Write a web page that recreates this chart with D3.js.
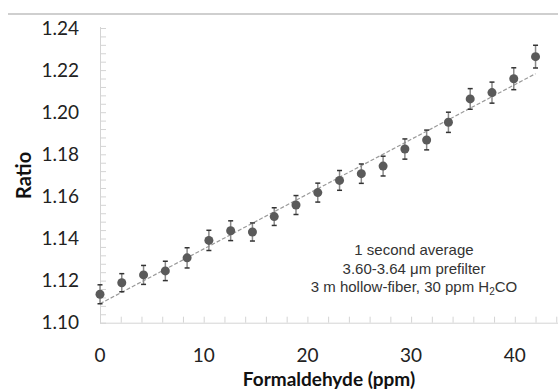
<!DOCTYPE html>
<html>
<head>
<meta charset="UTF-8">
<script src="https://d3js.org/d3.v7.min.js"></script>
<style>
  body { margin: 0; background: #fff; }
  svg { display: block; }
</style>
</head>
<body>
<svg id="canvas"></svg>
<script>
  // data
  concentration = [0, 2.1, 4.2, 6.3, 8.4, 10.5, 12.6, 14.7, 16.8, 18.9, 21.0,
                   23.1, 25.2, 27.3, 29.4, 31.5, 33.6, 35.7, 37.8, 39.9, 42.0];
  ratio = [1.1135, 1.1190, 1.1227, 1.1246, 1.1308, 1.1391, 1.1437, 1.1431, 1.1504, 1.1559, 1.1618,
           1.1676, 1.1708, 1.1744, 1.1825, 1.1868, 1.1952, 1.2063, 1.2093, 1.2159, 1.2264];
  errors = [0.0045, 0.0043, 0.0045, 0.0046, 0.0048, 0.0048, 0.0047, 0.0043, 0.0042, 0.0045, 0.0045,
            0.0047, 0.0046, 0.0047, 0.0048, 0.0047, 0.0048, 0.0049, 0.0050, 0.0052, 0.0054];
  trendX = [0, 42];
  trendY = [1.109, 1.2183];
  yTicks = [1.10, 1.12, 1.14, 1.16, 1.18, 1.20, 1.22, 1.24];
  xTicks = [0, 10, 20, 30, 40];
  notes = ["1 second average", "3.60-3.64 \u03bcm prefilter", "3 m hollow-fiber, 30 ppm H"];

  width = 558;
  height = 389;

  svg = d3.select("#canvas")
      .attr("width", width)
      .attr("height", height);

  x = d3.scaleLinear().domain([0, 45]).range([100, 100 + 45 * 10.37]);
  y = d3.scaleLinear().domain([1.10, 1.24]).range([322.7, 28]);

  // thin rule at the top of the page
  svg.append("line")
      .attr("x1", 8).attr("x2", width)
      .attr("y1", 14).attr("y2", 14)
      .attr("stroke", "#cfcfcf").attr("stroke-width", 2);

  axisColor = "#d4d4d4";

  // y axis with minor ticks
  yAxis = svg.append("g")
      .attr("transform", "translate(" + x(0) + ",0)")
      .call(d3.axisRight(y)
          .tickValues(d3.range(0, 36).map(i => 1.10 + i * 0.004))
          .tickSize(6)
          .tickFormat(""));
  yAxis.select(".domain").attr("stroke", axisColor).attr("d", "M0.5," + y(1.10) + "V" + (y(1.24) - 1));
  yAxis.selectAll(".tick line").attr("stroke", axisColor);

  svg.append("g").selectAll("text")
      .data(yTicks)
      .join("text")
      .attr("x", 79)
      .attr("y", d => y(d))
      .attr("dy", "0.35em")
      .attr("text-anchor", "end")
      .style("font-family", "Lato, 'Open Sans', sans-serif")
      .style("font-size", "19px")
      .attr("fill", "#222")
      .text(d3.format(".2f"));

  // x axis with minor ticks
  xAxis = svg.append("g")
      .attr("transform", "translate(0," + y(1.10) + ")")
      .call(d3.axisTop(x)
          .tickValues(d3.range(0, 23).map(i => i * 2))
          .tickSize(6)
          .tickFormat(""));
  xAxis.select(".domain").attr("stroke", axisColor).attr("d", "M" + x(0) + ",0.5H" + width);
  xAxis.selectAll(".tick line").attr("stroke", axisColor);

  svg.append("g").selectAll("text")
      .data(xTicks)
      .join("text")
      .attr("x", d => x(d))
      .attr("y", 362)
      .attr("text-anchor", "middle")
      .style("font-family", "Lato, 'Open Sans', sans-serif")
      .style("font-size", "19px")
      .attr("fill", "#222")
      .text(d => d);

  // axis titles
  svg.append("text")
      .attr("x", (x(0) + width) / 2)
      .attr("y", 386)
      .attr("text-anchor", "middle")
      .style("font-family", "Lato, 'Open Sans', sans-serif")
      .style("font-weight", "bold")
      .style("font-size", "19px")
      .attr("fill", "#111")
      .text("Formaldehyde (ppm)");

  svg.append("text")
      .attr("transform", "translate(31," + (y(1.10) + y(1.24)) / 2 + ") rotate(-90)")
      .attr("text-anchor", "middle")
      .style("font-family", "Lato, 'Open Sans', sans-serif")
      .style("font-weight", "bold")
      .style("font-size", "20px")
      .attr("fill", "#111")
      .text("Ratio");

  // trend line
  svg.append("line")
      .attr("x1", x(trendX[0])).attr("y1", y(trendY[0]))
      .attr("x2", x(trendX[1])).attr("y2", y(trendY[1]))
      .attr("stroke", "#9a9a9a")
      .attr("stroke-width", 1.2)
      .attr("stroke-dasharray", "4,2");

  points = concentration.map((c, i) => ({c: c, r: ratio[i], e: errors[i]}));

  // error bars
  bars = svg.append("g").selectAll("g")
      .data(points)
      .join("g");
  bars.append("line")
      .attr("x1", d => x(d.c)).attr("x2", d => x(d.c))
      .attr("y1", d => y(d.r - d.e)).attr("y2", d => y(d.r + d.e))
      .attr("stroke", "#8a8a8a").attr("stroke-width", 1.5);
  bars.selectAll(".cap")
      .data(d => [d.r - d.e, d.r + d.e].map(v => ({c: d.c, v: v})))
      .join("line")
      .attr("class", "cap")
      .attr("x1", d => x(d.c) - 2.5).attr("x2", d => x(d.c) + 2.5)
      .attr("y1", d => y(d.v)).attr("y2", d => y(d.v))
      .attr("stroke", "#333").attr("stroke-width", 1.5);

  // markers
  svg.append("g").selectAll("circle")
      .data(points)
      .join("circle")
      .attr("cx", d => x(d.c))
      .attr("cy", d => y(d.r))
      .attr("r", 4.5)
      .attr("fill", "#5a5a5a");

  // annotation
  notesG = svg.append("text")
      .attr("text-anchor", "middle")
      .style("font-family", "'Liberation Sans', Arial, sans-serif")
      .style("font-size", "15px")
      .attr("fill", "#333");
  notesG.selectAll("tspan.l")
      .data(notes)
      .join("tspan")
      .attr("class", "l")
      .attr("x", 414)
      .attr("y", (d, i) => 255 + i * 18.6)
      .text(d => d);
  notesG.append("tspan").attr("dy", 3).style("font-size", "10px").text("2");
  notesG.append("tspan").attr("dy", -3).text("CO");
</script>
</body>
</html>
